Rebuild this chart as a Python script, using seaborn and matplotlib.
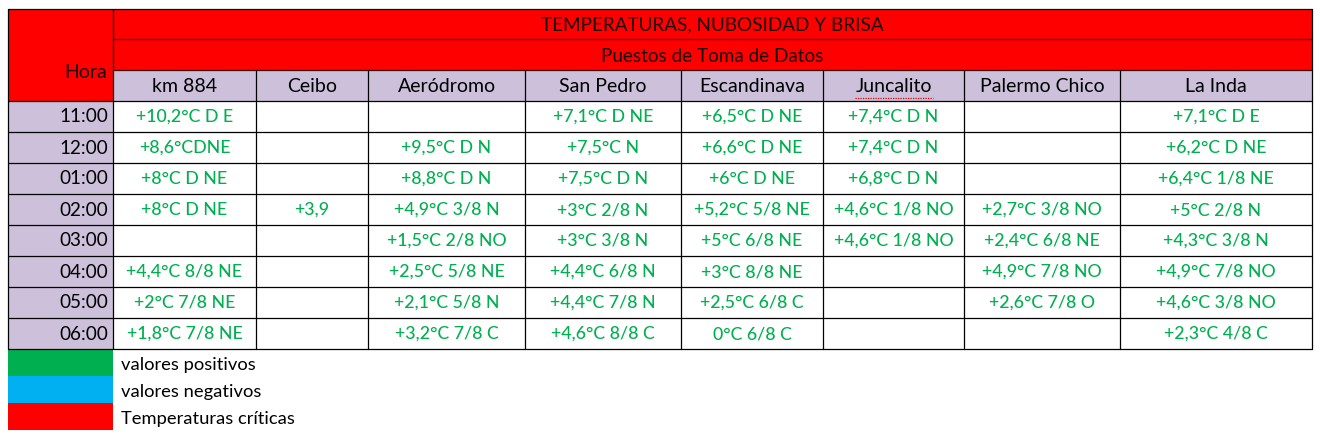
import matplotlib
matplotlib.use("Agg")
import matplotlib.pyplot as plt
import matplotlib.patches as mpatches
import seaborn as sns

sns.set_theme(style="white")
plt.rcParams['font.family'] = ['Lato', 'DejaVu Sans']

titulo = "TEMPERATURAS, NUBOSIDAD Y BRISA"
subtitulo = "Puestos de Toma de Datos"
hora_label = "Hora"
horas = ["11:00", "12:00", "01:00", "02:00", "03:00", "04:00", "05:00", "06:00"]
puestos = ["km 884", "Ceibo", "Aeródromo", "San Pedro", "Escandinava",
           "Juncalito", "Palermo Chico", "La Inda"]
km884 = ["+10,2°C D E", "+8,6°CDNE", "+8°C D NE", "+8°C D NE", "",
         "+4,4°C 8/8 NE", "+2°C 7/8 NE", "+1,8°C 7/8 NE"]
ceibo = ["", "", "", "+3,9", "", "", "", ""]
aerodromo = ["", "+9,5°C D N", "+8,8°C D N", "+4,9°C 3/8 N", "+1,5°C 2/8 NO",
             "+2,5°C 5/8 NE", "+2,1°C 5/8 N", "+3,2°C 7/8 C"]
san_pedro = ["+7,1°C D NE", "+7,5°C N", "+7,5°C D N", "+3°C 2/8 N", "+3°C 3/8 N",
             "+4,4°C 6/8 N", "+4,4°C 7/8 N", "+4,6°C 8/8 C"]
escandinava = ["+6,5°C D NE", "+6,6°C D NE", "+6°C D NE", "+5,2°C 5/8 NE",
               "+5°C 6/8 NE", "+3°C 8/8 NE", "+2,5°C 6/8 C", "0°C 6/8 C"]
juncalito = ["+7,4°C D N", "+7,4°C D N", "+6,8°C D N", "+4,6°C 1/8 NO",
             "+4,6°C 1/8 NO", "", "", ""]
palermo_chico = ["", "", "", "+2,7°C 3/8 NO", "+2,4°C 6/8 NE", "+4,9°C 7/8 NO",
                 "+2,6°C 7/8 O", ""]
la_inda = ["+7,1°C D E", "+6,2°C D NE", "+6,4°C 1/8 NE", "+5°C 2/8 N",
           "+4,3°C 3/8 N", "+4,9°C 7/8 NO", "+4,6°C 3/8 NO", "+2,3°C 4/8 C"]
columnas = [km884, ceibo, aerodromo, san_pedro, escandinava, juncalito,
            palermo_chico, la_inda]
leyenda_labels = ["valores positivos", "valores negativos", "Temperaturas críticas"]
leyenda_colores = ["#00B050", "#00B0F0", "#FF0000"]

# layout (pixels)
RED = "#FF0000"
LAV = "#CCC0DA"
GREEN = "#00B050"
xs = [8, 113, 256, 368, 525, 681, 823, 964, 1120, 1312]
y_title, y_sub, y_head, y_body = 9, 39, 70, 101
row_h = 31
n = len(horas)
y_bottom = y_body + n * row_h
leg_y = [349, 376, 403, 430]

fig = plt.figure(figsize=(13.2, 4.46), dpi=100)
ax = fig.add_axes([0, 0, 1, 1])
ax.set_xlim(0, 1320)
ax.set_ylim(446, 0)
ax.axis("off")

def rect(x0, y0, x1, y1, fc, ec="none", lw=0.0):
    ax.add_patch(mpatches.Rectangle((x0, y0), x1 - x0, y1 - y0, facecolor=fc,
                                    edgecolor=ec, linewidth=lw))

FS_TITLE = 13.6
FS_HEAD = 14.0
FS_DATA = 12.8
FS_TIME = 13.6
FS_LEG = 13.2
DARK = "#1a0a0a"

# red header
rect(xs[0], y_title, xs[-1], y_head, RED)
rect(xs[0], y_head, xs[1], y_body, RED)
# lavender headers
rect(xs[1], y_head, xs[-1], y_body, LAV)
rect(xs[0], y_body, xs[1], y_bottom, LAV)

ax.text((xs[1] + xs[-1]) / 2, 25, titulo, ha="center", va="center", fontsize=FS_TITLE, color=DARK)
ax.text((xs[1] + xs[-1]) / 2, 56, subtitulo, ha="center", va="center", fontsize=FS_TITLE, color=DARK)
ax.text(xs[1] - 6, 72, hora_label, ha="right", va="center", fontsize=FS_HEAD, color=DARK)

for j, p in enumerate(puestos):
    cx = (xs[j + 1] + xs[j + 2]) / 2
    ax.text(cx, 87, p, ha="center", va="center", fontsize=FS_HEAD, color="black")

# Juncalito spell-check underline
jx = (xs[6] + xs[7]) / 2
ax.plot([jx - 39, jx + 39], [97.5, 97.5], color="#E00000", lw=0.9, ls=(0, (1, 1)))

for i, h in enumerate(horas):
    cy = y_body + i * row_h + row_h / 2 + 0.5
    ax.text(xs[1] - 5, cy, h, ha="right", va="center", fontsize=FS_TIME, color="black")
    for j, col in enumerate(columnas):
        if col[i]:
            cx = (xs[j + 1] + xs[j + 2]) / 2
            ax.text(cx, cy, col[i], ha="center", va="center", fontsize=FS_DATA,
                    color=GREEN, fontweight="medium")

LW = 0.9
# grid lines
ax.plot([xs[0], xs[-1]], [y_title, y_title], color="black", lw=LW)
ax.plot([xs[1], xs[-1]], [y_sub, y_sub], color="#400000", lw=LW)
ax.plot([xs[1], xs[-1]], [y_head, y_head], color="#400000", lw=LW)
for k in range(n + 1):
    y = y_body + k * row_h
    ax.plot([xs[0], xs[-1]], [y, y], color="black", lw=LW)
ax.plot([xs[0], xs[0]], [y_title, y_bottom], color="black", lw=LW)
ax.plot([xs[1], xs[1]], [y_title, y_bottom], color="black", lw=LW)
ax.plot([xs[-1], xs[-1]], [y_title, y_bottom], color="black", lw=LW)
for x in xs[2:-1]:
    ax.plot([x, x], [y_head, y_bottom], color="black", lw=LW)

# legend
for k, (lab, c) in enumerate(zip(leyenda_labels, leyenda_colores)):
    rect(xs[0], leg_y[k], xs[1], leg_y[k + 1], c)
    ax.text(121, (leg_y[k] + leg_y[k + 1]) / 2 + 2.5, lab, ha="left", va="center",
            fontsize=FS_LEG, color="black")

fig.savefig("out.png", dpi=100)
